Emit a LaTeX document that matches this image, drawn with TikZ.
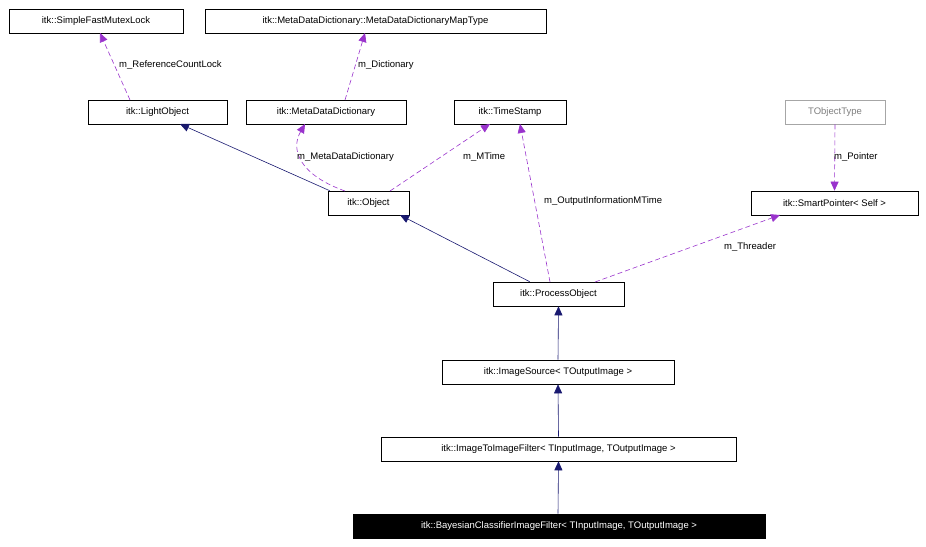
\documentclass[tikz,border=0pt]{standalone}
\usepackage{fontspec}
\setmainfont{Liberation Sans}
\usetikzlibrary{arrows.meta}
\definecolor{navy}{RGB}{25,25,112}
\definecolor{dpurple}{RGB}{153,50,204}
\begin{document}
\begin{tikzpicture}[x=1pt,y=-1pt,
  font=\fontsize{9.5}{11}\selectfont,
  box/.style={draw=black,fill=white,inner sep=0pt,minimum height=24pt,line width=0.6pt},
  inh/.style={draw=navy,line width=0.6pt,-{Triangle[length=9pt,width=8pt,fill=navy]}},
  mem/.style={draw=dpurple,line width=0.6pt,dash pattern=on 5pt off 3pt,-{Triangle[length=9pt,width=8pt,fill=dpurple]}},
  lab/.style={font=\fontsize{9.5}{11}\selectfont,inner sep=1pt}]
\useasboundingbox (0,0) rectangle (926,546);
\node[box,minimum width=174pt] (sfml) at (96,21) {itk::SimpleFastMutexLock};
\node[box,minimum width=341pt] (mapt) at (375.5,21) {itk::MetaDataDictionary::MetaDataDictionaryMapType};
\node[box,minimum width=139pt] (lo) at (157.5,112) {itk::LightObject};
\node[box,minimum width=160pt] (mdd) at (326,112) {itk::MetaDataDictionary};
\node[box,minimum width=112pt] (ts) at (510,112) {itk::TimeStamp};
\node[box,minimum width=100pt,draw=gray!70,text=gray] (tot) at (835,112) {TObjectType};
\node[box,minimum width=81pt] (obj) at (368.5,203) {itk::Object};
\node[box,minimum width=167pt] (sp) at (834.5,203) {itk::SmartPointer< Self >};
\node[box,minimum width=131pt] (po) at (558.5,294) {itk::ProcessObject};
\node[box,minimum width=232pt] (is) at (558,372) {itk::ImageSource< TOutputImage >};
\node[box,minimum width=355pt] (iti) at (558.5,449) {itk::ImageToImageFilter< TInputImage, TOutputImage >};
\node[box,minimum width=412pt,fill=black,text=white] (bc) at (559,526) {itk::BayesianClassifierImageFilter< TInputImage, TOutputImage >};

\draw[inh] (obj.north west) ++(2,0) coordinate (a1) -- (180,124);
\draw[inh] (po.north west) ++(37,0) -- (400,215);
\draw[inh] (is.north) -- (po.south);
\draw[inh] (iti.north) -- (is.south);
\draw[inh] (bc.north) ++(-1,0) -- (iti.south);

\draw[mem] (130,100) -- (100,33);
\node[lab,anchor=west] at (118,65) {m\_ReferenceCountLock};
\draw[mem] (345,100) -- (365,33);
\node[lab,anchor=west] at (357,65) {m\_Dictionary};
\draw[mem] (345,191) .. controls (300,175) and (290,150) .. (305,124);
\node[lab,anchor=west] at (296,157) {m\_MetaDataDictionary};
\draw[mem] (390,191) -- (490,124);
\node[lab,anchor=west] at (462,157) {m\_MTime};
\draw[mem] (550,282) -- (520,124);
\node[lab,anchor=west] at (543,201) {m\_OutputInformationMTime};
\draw[mem] (tot.south) -- (sp.north);
\node[lab,anchor=west] at (833,157) {m\_Pointer};
\draw[mem] (595,282) -- (780,215);
\node[lab,anchor=west] at (723,247) {m\_Threader};
\end{tikzpicture}
\end{document}
